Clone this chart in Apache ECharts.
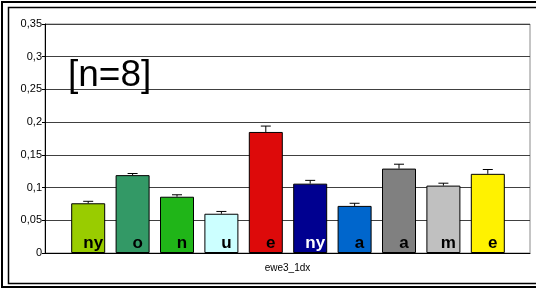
<!DOCTYPE html>
<html>
<head>
<meta charset="utf-8">
<script src="https://cdn.jsdelivr.net/npm/echarts@6/dist/echarts.min.js"></script>
<style>
  html, body { margin: 0; padding: 0; background: #fff; }
  #main { width: 536px; height: 289px; }
</style>
</head>
<body>
<div id="main"></div>
<script>
// data
const groups = ['ewe3_1dx'];
const barNames = ['ny', 'o', 'n', 'u', 'e', 'ny', 'a', 'a', 'm', 'e'];
const means = [0.076, 0.119, 0.086, 0.060, 0.185, 0.106, 0.072, 0.129, 0.103, 0.121];
const errs = [0.003, 0.0025, 0.003, 0.0035, 0.009, 0.005, 0.004, 0.0067, 0.0037, 0.0066];
const barColors = ['#99cc00', '#339966', '#20b518', '#ccffff', '#dd0a0a', '#000090', '#0066cc', '#808080', '#c0c0c0', '#fff200'];
const labelColors = ['#000', '#000', '#000', '#000', '#000', '#fff', '#000', '#000', '#000', '#000'];
const yTicks = ['0', '0,05', '0,1', '0,15', '0,2', '0,25', '0,3', '0,35'];

let chart = echarts.init(document.getElementById('main'), null, { renderer: 'canvas' });

let barData = means.map((v, i) => ({
  value: v,
  itemStyle: { color: barColors[i] },
  label: { color: labelColors[i] }
}));

let option = {
  backgroundColor: '#fff',
  animation: false,
  textStyle: { fontFamily: 'Liberation Sans, Arial, sans-serif' },
  graphic: [
    { type: 'rect', shape: { x: 2, y: 2, width: 560, height: 285 }, style: { fill: 'none', stroke: '#000', lineWidth: 2 }, z: 10 },
    { type: 'rect', shape: { x: 8.5, y: 7.5, width: 560, height: 276 }, style: { fill: 'none', stroke: '#000', lineWidth: 1.5 }, z: 10 },
    // annotation inside the plot
    { type: 'text', left: 68, top: 57, style: { text: '[n=8]', fontSize: 37, fill: '#000', fontFamily: 'Liberation Sans, Arial, sans-serif' }, z: 10 }
  ],
  grid: [
    { left: 45, right: 6, top: 24, bottom: 36, show: true, borderColor: '#8a8a8a', borderWidth: 1 },
    { left: 66, right: 26, top: 24, bottom: 36 }
  ],
  xAxis: [
    {
      type: 'category', gridIndex: 0, data: groups,
      axisLine: { lineStyle: { color: '#000' } },
      axisTick: { length: 4, lineStyle: { color: '#000' } },
      axisLabel: { color: '#000', fontSize: 10, margin: 10 }
    },
    {
      type: 'category', gridIndex: 1, data: barNames,
      axisLine: { show: false }, axisTick: { show: false }, axisLabel: { show: false }
    }
  ],
  yAxis: [
    {
      type: 'value', gridIndex: 0, min: 0, max: 0.35, interval: 0.05,
      axisLine: { show: true, lineStyle: { color: '#000' } },
      axisTick: { show: true, length: 3, lineStyle: { color: '#000' } },
      axisLabel: {
        color: '#000', fontSize: 11, margin: 3,
        formatter: (v) => yTicks[Math.round(v / 0.05)]
      },
      splitLine: { lineStyle: { color: '#404040', width: 1 } }
    },
    {
      type: 'value', gridIndex: 1, min: 0, max: 0.35, interval: 0.05,
      axisLine: { show: false }, axisTick: { show: false }, axisLabel: { show: false }, splitLine: { show: false }
    }
  ],
  series: [
    {
      type: 'bar', xAxisIndex: 1, yAxisIndex: 1,
      barWidth: 34,
      data: barData,
      itemStyle: { borderColor: '#000', borderWidth: 1 },
      label: {
        show: true, position: 'insideBottom', distance: 1, offset: [5, 0],
        formatter: (p) => barNames[p.dataIndex],
        fontSize: 17, fontWeight: 'bold',
        fontFamily: 'Liberation Sans, Arial, sans-serif'
      },
      z: 3
    },
    {
      // error bars (upper half only)
      type: 'custom', xAxisIndex: 1, yAxisIndex: 1,
      data: means.map((v, i) => [i, v, v + errs[i]]),
      renderItem: function (params, api) {
        let x = api.coord([api.value(0), api.value(1)])[0];
        let yLow = api.coord([api.value(0), api.value(1)])[1];
        let yHigh = api.coord([api.value(0), api.value(2)])[1];
        let style = { stroke: '#000', lineWidth: 1 };
        return {
          type: 'group',
          children: [
            { type: 'line', shape: { x1: x, y1: yLow, x2: x, y2: yHigh }, style: style },
            { type: 'line', shape: { x1: x - 5, y1: yHigh, x2: x + 5, y2: yHigh }, style: style }
          ]
        };
      },
      z: 4
    }
  ]
};

chart.setOption(option);
window.addEventListener('resize', chart.resize);
</script>
</body>
</html>
